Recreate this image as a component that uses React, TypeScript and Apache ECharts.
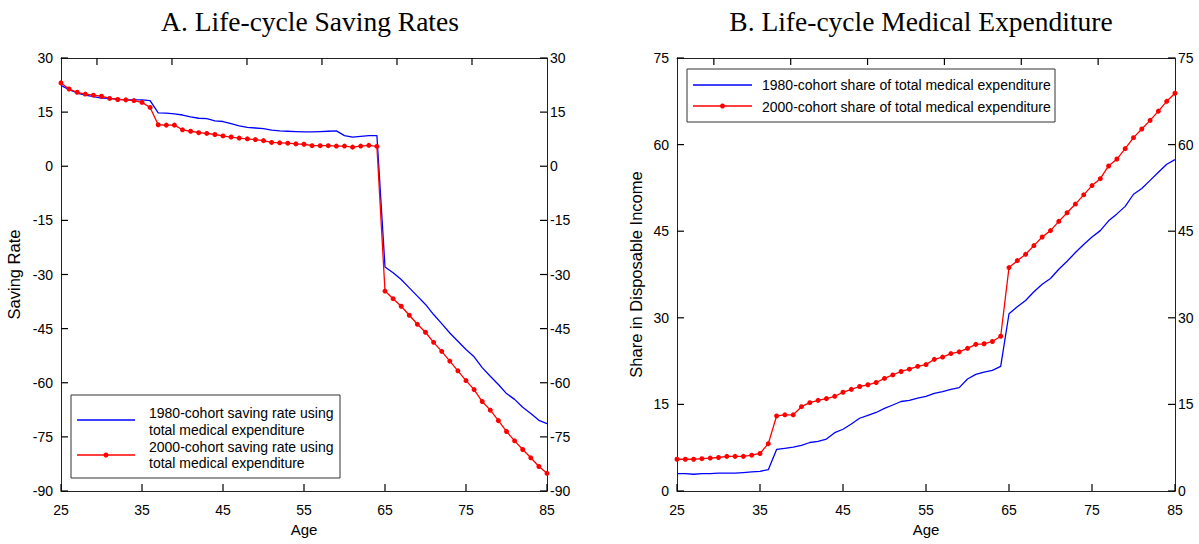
import React, { useEffect, useRef } from "react";
import * as echarts from "echarts";

const ages = [25, 26, 27, 28, 29, 30, 31, 32, 33, 34, 35, 36, 37, 38, 39, 40, 41, 42, 43, 44, 45, 46, 47, 48, 49, 50, 51, 52, 53, 54, 55, 56, 57, 58, 59, 60, 61, 62, 63, 64, 65, 66, 67, 68, 69, 70, 71, 72, 73, 74, 75, 76, 77, 78, 79, 80, 81, 82, 83, 84, 85];

const savingBlue1980 = [22.4, 21.2, 20.3, 19.7, 19.3, 18.9, 18.8, 18.6, 18.4, 18.4, 18.4, 18.2, 14.8, 14.7, 14.5, 14.2, 13.7, 13.3, 13.2, 12.6, 12.4, 11.8, 11.2, 10.8, 10.6, 10.4, 10.0, 9.8, 9.7, 9.6, 9.5, 9.5, 9.6, 9.7, 9.8, 8.5, 8.1, 8.3, 8.5, 8.5, -27.9, -29.5, -31.4, -33.7, -36.0, -38.3, -41.1, -43.6, -46.2, -48.5, -50.8, -52.8, -55.8, -58.2, -60.5, -63.0, -64.6, -66.8, -68.5, -70.4, -71.3];

const savingRed2000 = [23.1, 21.4, 20.5, 20.0, 19.7, 19.4, 18.8, 18.5, 18.4, 18.2, 17.7, 16.3, 11.5, 11.4, 11.4, 10.1, 9.7, 9.3, 9.1, 8.8, 8.4, 8.1, 7.8, 7.6, 7.4, 7.1, 6.6, 6.5, 6.4, 6.2, 6.1, 5.7, 5.7, 5.7, 5.6, 5.6, 5.3, 5.6, 5.8, 5.5, -34.6, -36.7, -38.8, -41.3, -43.8, -46.0, -48.8, -51.3, -54.0, -56.7, -59.4, -61.9, -65.2, -67.6, -70.5, -73.5, -76.1, -78.5, -80.8, -83.2, -85.1];

const medBlue1980 = [3.0, 3.0, 2.9, 3.0, 3.0, 3.1, 3.1, 3.1, 3.2, 3.3, 3.4, 3.7, 7.2, 7.4, 7.6, 7.9, 8.4, 8.6, 9.0, 10.1, 10.7, 11.6, 12.6, 13.1, 13.6, 14.3, 14.9, 15.5, 15.7, 16.1, 16.4, 16.9, 17.2, 17.6, 17.9, 19.4, 20.2, 20.6, 20.9, 21.6, 30.7, 31.9, 33.0, 34.5, 35.8, 36.8, 38.4, 39.8, 41.3, 42.7, 44.0, 45.1, 46.8, 48.0, 49.3, 51.4, 52.4, 53.8, 55.2, 56.6, 57.4];

const medRed2000 = [5.5, 5.5, 5.5, 5.6, 5.7, 5.8, 6.0, 6.0, 6.0, 6.2, 6.5, 8.2, 13.0, 13.2, 13.2, 14.6, 15.3, 15.7, 16.0, 16.4, 17.1, 17.6, 18.1, 18.4, 18.8, 19.5, 20.1, 20.7, 21.1, 21.6, 21.9, 22.8, 23.2, 23.8, 24.1, 24.7, 25.4, 25.5, 25.9, 26.8, 38.7, 39.9, 41.0, 42.5, 44.0, 45.1, 46.7, 48.2, 49.7, 51.3, 52.9, 54.1, 56.3, 57.5, 59.3, 61.2, 62.7, 64.2, 65.8, 67.5, 68.9];

// tick values
const ageTicks = [25, 35, 45, 55, 65, 75, 85];
const topTickAges = [29.44, 38.7, 47.96, 57.22, 66.48, 75.74];
const savingTicks = [-90, -75, -60, -45, -30, -15, 0, 15, 30];
const shareTicks = [0, 15, 30, 45, 60, 75];

const titleA = "A. Life-cycle Saving Rates";
const titleB = "B. Life-cycle Medical Expenditure";
const legendA = ["1980-cohort saving rate using\ntotal medical expenditure", "2000-cohort saving rate using\ntotal medical expenditure"];
const legendB = ["1980-cohort share of total medical expenditure", "2000-cohort share of total medical expenditure"];

const SANS = "'Liberation Sans', Arial, sans-serif";
const SERIF = "'Liberation Serif', 'Times New Roman', serif";
const AXIS_COLOR = "#222";
const BLUE = "#0000ff";
const RED = "#ff0000";
const TICK_LEN = 7;

function pairs(v: number[]) {
  return ages.map((a, i) => [a, v[i]]);
}

function bottomX(gridIndex: number) {
  return {
    type: "value",
    gridIndex,
    position: "bottom",
    min: 25,
    max: 85,
    interval: 10,
    name: "Age",
    nameLocation: "middle",
    nameGap: 29,
    nameTextStyle: { fontFamily: SANS, fontSize: 15, color: "#000" },
    axisLine: { show: true, onZero: false, lineStyle: { color: AXIS_COLOR, width: 1 } },
    axisTick: { show: false },
    axisLabel: { fontFamily: SANS, fontSize: 14, color: "#000", margin: 12 },
    splitLine: { show: false },
  };
}

function topX(gridIndex: number) {
  return {
    type: "value",
    gridIndex,
    position: "top",
    min: 25,
    max: 85,
    axisLine: { show: true, onZero: false, lineStyle: { color: AXIS_COLOR, width: 1 } },
    axisTick: { show: false },
    axisLabel: { show: false },
    splitLine: { show: false },
  };
}

function yAx(gridIndex: number, position: string, min: number, max: number, name: string, nameGap: number) {
  return {
    type: "value",
    gridIndex,
    position,
    min,
    max,
    interval: 15,
    name,
    nameLocation: "middle",
    nameGap,
    nameTextStyle: { fontFamily: SANS, fontSize: 16.5, color: "#000" },
    axisLine: { show: true, onZero: false, lineStyle: { color: AXIS_COLOR, width: 1 } },
    axisTick: { show: false },
    axisLabel: { fontFamily: SANS, fontSize: 14, color: "#000", margin: position === "left" ? 8 : 3 },
    splitLine: { show: false },
  };
}

function legendBox(x: number, y: number, w: number, h: number, lineX1: number, lineX2: number, textX: number, rows: { text: string; y: number; color: string; marker: boolean; ty: number }[]) {
  const children: any[] = [
    { type: "rect", shape: { x, y, width: w, height: h }, style: { fill: "#fff", stroke: "#333", lineWidth: 1 } },
  ];
  rows.forEach((r) => {
    children.push({ type: "line", shape: { x1: lineX1, y1: r.y, x2: lineX2, y2: r.y }, style: { stroke: r.color, lineWidth: 1.5 } });
    if (r.marker) {
      children.push({ type: "circle", shape: { cx: (lineX1 + lineX2) / 2, cy: r.y, r: 2.5 }, style: { fill: r.color } });
    }
    children.push({
      type: "text",
      x: textX,
      y: r.ty,
      style: { text: r.text, fontFamily: SANS, fontSize: 14, fill: "#000", textVerticalAlign: "middle", lineHeight: 16.5 },
    });
  });
  return children;
}

// Build tick marks from tick values through the chart's own scales (convertToPixel)
function tickLines(chart: any, gridIndex: number, yTicks: number[], yMin: number, yMax: number) {
  const out: any[] = [];
  const px = (x: number, y: number) => chart.convertToPixel({ gridIndex }, [x, y]) as number[];
  const add = (p: number[], dx: number, dy: number) =>
    out.push({ type: "line", z: 100, shape: { x1: p[0], y1: p[1], x2: p[0] + dx, y2: p[1] + dy }, style: { stroke: "#000", lineWidth: 1.2 } });
  ageTicks.forEach((t) => add(px(t, yMin), 0, -TICK_LEN));
  topTickAges.forEach((t) => add(px(t, yMax), 0, TICK_LEN));
  yTicks.forEach((t) => {
    add(px(25, t), TICK_LEN, 0);
    add(px(85, t), -TICK_LEN, 0);
  });
  return out;
}

export default function App() {
  const ref = useRef<HTMLDivElement>(null);
  useEffect(() => {
    if (!ref.current) return;
    const chart = echarts.init(ref.current, null, { renderer: "svg" });
    const lineStyleBlue = { color: BLUE, width: 1.3 };
    const lineStyleRed = { color: RED, width: 1.3 };
    const baseGraphic: any[] = [
      { type: "text", x: 310, y: 21, style: { text: titleA, fontFamily: SERIF, fontSize: 27.5, fill: "#000", textAlign: "center", textVerticalAlign: "middle" } },
      { type: "text", x: 921, y: 21, style: { text: titleB, fontFamily: SERIF, fontSize: 27.5, fill: "#000", textAlign: "center", textVerticalAlign: "middle" } },
      {
        type: "group",
        children: legendBox(71, 395, 269, 83, 77, 135, 149, [
          { text: legendA[0], y: 420, color: BLUE, marker: false, ty: 421.5 },
          { text: legendA[1], y: 455, color: RED, marker: true, ty: 455 },
        ]),
      },
      {
        type: "group",
        children: legendBox(687, 69, 368, 53, 693, 752, 762, [
          { text: legendB[0], y: 85, color: BLUE, marker: false, ty: 85 },
          { text: legendB[1], y: 106, color: RED, marker: true, ty: 106.5 },
        ]),
      },
    ];
    chart.setOption({
      animation: false,
      backgroundColor: "#fff",
      grid: [
        { left: 61, top: 58, width: 486, height: 433 },
        { left: 677, top: 58, width: 498, height: 433 },
      ],
      xAxis: [bottomX(0), topX(0), bottomX(1), topX(1)],
      yAxis: [
        yAx(0, "left", -90, 30, "Saving Rate", 39),
        yAx(0, "right", -90, 30, "", 0),
        yAx(1, "left", 0, 75, "Share in Disposable Income", 33),
        yAx(1, "right", 0, 75, "", 0),
      ],
      series: [
        { type: "line", name: legendA[0], xAxisIndex: 0, yAxisIndex: 0, data: pairs(savingBlue1980), showSymbol: false, symbol: "none", lineStyle: lineStyleBlue, itemStyle: { color: BLUE } },
        { type: "line", name: legendA[1], xAxisIndex: 0, yAxisIndex: 0, data: pairs(savingRed2000), symbol: "circle", symbolSize: 5, showSymbol: true, lineStyle: lineStyleRed, itemStyle: { color: RED } },
        { type: "line", name: legendB[0], xAxisIndex: 2, yAxisIndex: 2, data: pairs(medBlue1980), showSymbol: false, symbol: "none", lineStyle: lineStyleBlue, itemStyle: { color: BLUE } },
        { type: "line", name: legendB[1], xAxisIndex: 2, yAxisIndex: 2, data: pairs(medRed2000), symbol: "circle", symbolSize: 5, showSymbol: true, lineStyle: lineStyleRed, itemStyle: { color: RED } },
      ],
      graphic: baseGraphic,
    });
    let ticks: any[] = [];
    try {
      ticks = [
        ...tickLines(chart, 0, savingTicks, -90, 30),
        ...tickLines(chart, 1, shareTicks, 0, 75),
      ];
    } catch (e) {
      ticks = [];
    }
    if (ticks.length) {
      chart.setOption({ graphic: [...baseGraphic, { type: "group", children: ticks }] });
    }
    return () => chart.dispose();
  }, []);
  return <div ref={ref} style={{ position: "absolute", left: 0, top: 0, width: 1199, height: 544 }} />;
}
